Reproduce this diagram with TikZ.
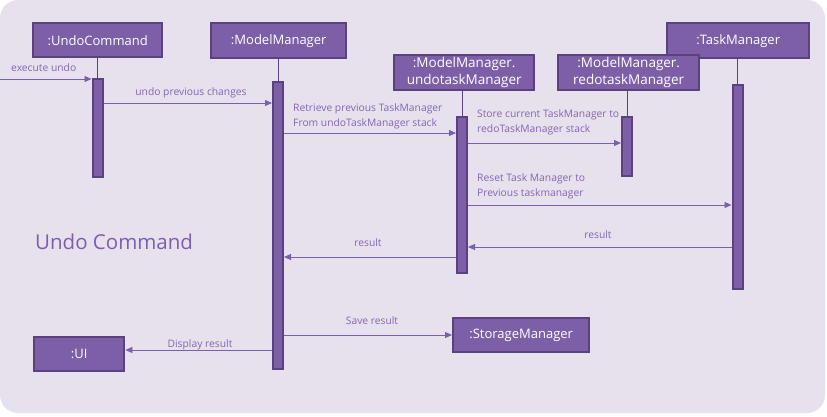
\documentclass[tikz,border=0pt]{standalone}
\usepackage{fontspec}
\setmainfont{Open Sans}
\usetikzlibrary{arrows.meta}
\definecolor{bgc}{HTML}{E7E1EE}
\definecolor{boxfill}{HTML}{7D5FA7}
\definecolor{boxline}{HTML}{5A4280}
\definecolor{msgc}{HTML}{7B5FAA}
\definecolor{lblc}{HTML}{8366B0}
\tikzset{
  obj/.style={draw=boxline, line width=2.4pt, fill=boxfill, text=white, inner sep=0pt,
    anchor=north west, font=\fontsize{13}{15}\selectfont, align=center},
  act/.style={draw=boxline, line width=2pt, fill=boxfill, inner sep=0pt, anchor=north,
    minimum width=10pt},
  life/.style={draw=boxline, line width=0.7pt},
  msg/.style={draw=msgc, line width=0.8pt, -{Triangle[length=7pt,width=6pt]}},
  lbl/.style={text=lblc, font=\fontsize{10.3}{15}\selectfont, inner sep=0pt, align=left},
}
\begin{document}
\begin{tikzpicture}[x=1pt,y=-1pt]
\useasboundingbox (0,0) rectangle (827,416);
\fill[bgc, rounded corners=18pt] (0,0) rectangle (825,413);
% objects
\node[obj, minimum width=129pt, minimum height=34pt] (uc) at (32,22) {:UndoCommand};
\node[obj, minimum width=135pt, minimum height=35pt] (mm) at (210,22) {:ModelManager};
\node[obj, minimum width=142pt, minimum height=35pt] (tm) at (666,22) {:TaskManager};
\node[obj, minimum width=140pt, minimum height=35pt, font=\fontsize{13.5}{17}\selectfont] (um) at (393,54) {:ModelManager.\\undotaskManager};
\node[obj, minimum width=141pt, minimum height=35pt, font=\fontsize{13.5}{17}\selectfont] (rm) at (557,54) {:ModelManager.\\redotaskManager};
\node[obj, minimum width=136pt, minimum height=34pt] (sm) at (452,317) {:StorageManager};
\node[obj, minimum width=90pt, minimum height=34pt] (ui) at (33,336) {:UI};
% activation bars
\node[act, minimum height=98pt] (ucA) at (97.5,78) {};
\node[act, minimum height=287pt] (mmA) at (278,81) {};
\node[act, minimum height=156pt] (umA) at (462,116) {};
\node[act, minimum height=59pt] (rmA) at (627,116) {};
\node[act, minimum height=204pt] (tmA) at (737.5,84) {};
% lifelines
\draw[life] (uc.south -| ucA.north) -- (ucA.north);
\draw[life] (mm.south -| mmA.north) -- (mmA.north);
\draw[life] (um.south -| umA.north) -- (umA.north);
\draw[life] (rm.south -| rmA.north) -- (rmA.north);
\draw[life] (tm.south -| tmA.north) -- (tmA.north);
% title
\node[text=msgc, font=\fontsize{20.5}{24}\selectfont, anchor=west, inner sep=0pt] (title) at (35,242) {Undo Command};
% messages
\coordinate (start) at (0,79);
\draw[msg] (start) -- (ucA.west |- start);
\node[lbl, anchor=base west] (l1) at (11,71) {execute undo};
\draw[msg] (ucA.east |- 0,103) -- (mmA.west |- 0,103);
\node[lbl, anchor=base] (l2) at (191,95) {undo previous changes};
\draw[msg] (mmA.east |- 0,133) -- (umA.west |- 0,133);
\node[lbl, anchor=north west] (l3) at (293,103) {Retrieve previous TaskManager\\From undoTaskManager stack};
\draw[msg] (umA.east |- 0,143) -- (rmA.west |- 0,143);
\node[lbl, anchor=north west] (l4) at (477,109) {Store current TaskManager to\\redoTaskManager stack};
\draw[msg] (umA.east |- 0,205) -- (tmA.west |- 0,205);
\node[lbl, anchor=north west] (l5) at (477,173) {Reset Task Manager to\\Previous taskmanager};
\draw[msg] (tmA.west |- 0,247) -- (umA.east |- 0,247);
\node[lbl, anchor=base] (l6) at (598,238) {result};
\draw[msg] (umA.west |- 0,257) -- (mmA.east |- 0,257);
\node[lbl, anchor=base] (l7) at (368,246) {result};
\draw[msg] (mmA.east |- 0,335) -- (sm.west |- 0,335);
\node[lbl, anchor=base] (l8) at (372,324) {Save result};
\draw[msg] (mmA.west |- 0,350) -- (ui.east |- 0,350);
\node[lbl, anchor=base] (l9) at (200,347) {Display result};
\end{tikzpicture}
\end{document}
